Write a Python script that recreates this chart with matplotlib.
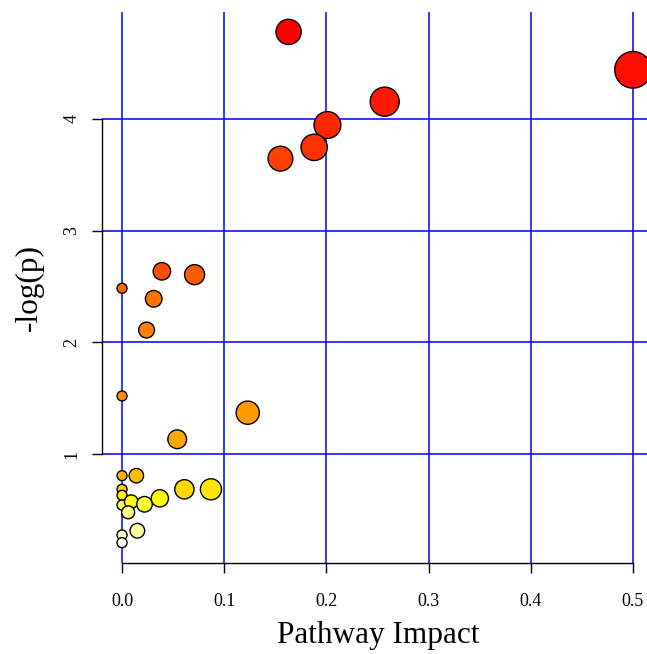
import matplotlib
matplotlib.use("Agg")
import matplotlib.pyplot as plt
import numpy as np
import colorsys

plt.rcParams['font.family'] = ['Liberation Serif', 'DejaVu Serif']

# pathway impact (x) and -log(p) (y)
impact = [0.163, 0.500, 0.257, 0.201, 0.188, 0.155,
          0.039, 0.071, 0.000, 0.031, 0.024,
          0.000, 0.123, 0.054,
          0.000, 0.014, 0.000, 0.000, 0.000, 0.009, 0.022, 0.037,
          0.061, 0.087, 0.006, 0.015, 0.000, 0.000]
logp = [4.78, 4.44, 4.155, 3.946, 3.746, 3.645,
        2.636, 2.606, 2.484, 2.39, 2.11,
        1.52, 1.37, 1.132,
        0.806, 0.806, 0.684, 0.63, 0.543, 0.573, 0.55, 0.603,
        0.684, 0.684, 0.478, 0.313, 0.275, 0.206]

x = np.array(impact)
y = np.array(logp)


def heat_colors(n):
    # same as R's heat.colors(n)
    j = n // 4
    i = n - j
    cols = []
    for k in range(i):
        h = (k / (i - 1)) * (1 / 6) if i > 1 else 0
        cols.append(colorsys.hsv_to_rgb(h, 1, 1))
    if j > 0:
        for s in np.linspace(1 - 1 / (2 * j), 1 / (2 * j), j):
            cols.append(colorsys.hsv_to_rgb(1 / 6, s, 1))
    return cols


order = np.argsort(-y, kind='stable')
heat = heat_colors(len(y))
cols = [None] * len(y)
for rank, idx in enumerate(order):
    cols[idx] = heat[rank]

# circle radius grows with impact (pixels -> points)
radius_px = 5 + 18.8 * np.sqrt(x)
sizes = (2 * radius_px * 0.72) ** 2

W, H = 647, 654
fig = plt.figure(figsize=(W / 100, H / 100), dpi=100)
ax = fig.add_axes([102 / W, (H - 563) / H, 545 / W, 551 / H])

ax.set_xlim(-0.0196, 0.5137)
ax.set_ylim(0.024, 4.958)

for gx in [0, 0.1, 0.2, 0.3, 0.4, 0.5]:
    ax.axvline(gx, color='#0000FF', lw=1.1, zorder=1)
for gy in [1, 2, 3, 4]:
    ax.axhline(gy, color='#0000FF', lw=1.1, zorder=1)

ax.scatter(x, y, s=sizes, c=cols, edgecolors='black', linewidths=1.0,
           zorder=3, clip_on=True)

ax.spines['top'].set_visible(False)
ax.spines['right'].set_visible(False)
ax.spines['left'].set_bounds(1, 4)
ax.spines['bottom'].set_bounds(0, 0.5)
for s in ['left', 'bottom']:
    ax.spines[s].set_linewidth(1.0)
    ax.spines[s].set_color('black')

ax.set_xticks([0, 0.1, 0.2, 0.3, 0.4, 0.5])
ax.set_xticklabels(['0.0', '0.1', '0.2', '0.3', '0.4', '0.5'])
ax.set_yticks([1, 2, 3, 4])
ax.set_yticklabels(['1', '2', '3', '4'], rotation=90, va='center')
ax.tick_params(axis='both', direction='out', length=7.5, width=1.0,
               labelsize=13)
ax.tick_params(axis='x', pad=14)
ax.tick_params(axis='y', pad=8)

ax.set_xlabel('Pathway Impact', fontsize=22.5)
ax.xaxis.set_label_coords(0.507, -0.105)
ax.set_ylabel('-log(p)', fontsize=22.5)
ax.yaxis.set_label_coords(-0.107, 0.5)

fig.savefig('out.png', dpi=100)
